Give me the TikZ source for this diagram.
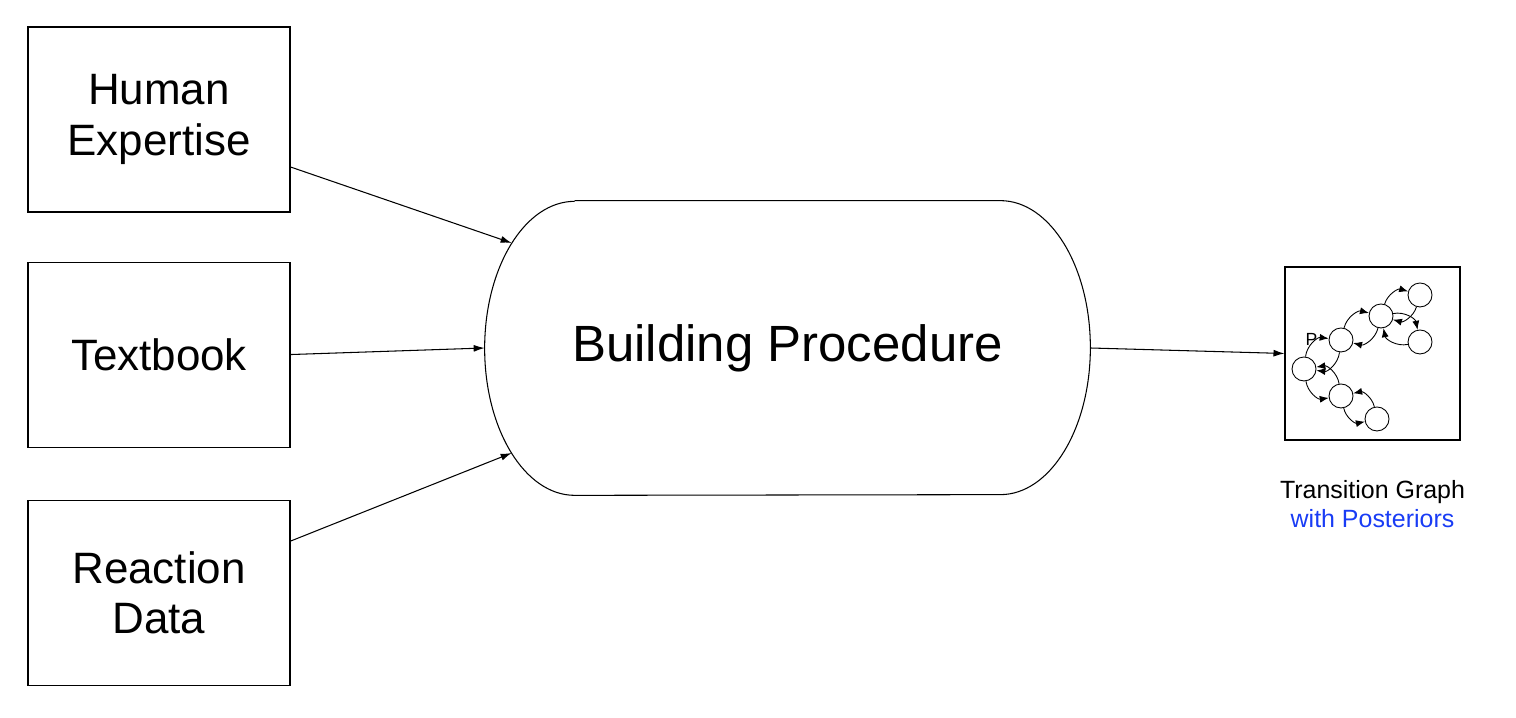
\documentclass[tikz,border=0pt]{standalone}
\usepackage{fontspec}
\setmainfont{Liberation Sans}
\usetikzlibrary{arrows.meta,positioning}
\definecolor{postblue}{RGB}{25,60,245}
\tikzset{
    srcbox/.style={draw,line width=0.6pt,minimum width=5.24cm,minimum height=3.7cm,align=center,font=\fontsize{25}{28.5}\selectfont},
    feed/.style={line width=0.6pt,-{Latex[length=2.2mm,width=1.4mm]}},
    state/.style={draw,circle,line width=0.5pt,minimum size=0.48cm,inner sep=0pt},
    hop/.style={line width=0.5pt,-{Latex[length=1.8mm,width=1.4mm]}}
}
\begin{document}
\begin{tikzpicture}
    \useasboundingbox (0,0) rectangle (30.32,14.36);

    \node[srcbox] (human) at (3.18,11.97) {Human\\Expertise};
    \node[srcbox,below=0.98cm of human] (textbook) {Textbook};
    \node[srcbox,below=1.04cm of textbook] (reaction) {Reaction\\Data};

    \node[minimum width=12.1cm,minimum height=5.88cm,font=\fontsize{29}{34}\selectfont] (build) at (15.75,7.40) {Building Procedure};
    \draw[line width=0.6pt] ([xshift=1.8cm]build.north west) -- ([xshift=-1.8cm]build.north east)
        arc[start angle=90,end angle=-90,x radius=1.8cm,y radius=2.94cm]
        -- ([xshift=1.8cm]build.south west)
        arc[start angle=270,end angle=90,x radius=1.8cm,y radius=2.94cm];
    \coordinate (hin) at ([xshift=0.54cm,yshift=2.1cm]build.west);
    \coordinate (rin) at ([xshift=0.54cm,yshift=-2.1cm]build.west);

    \node[draw,line width=0.6pt,minimum width=3.5cm,minimum height=3.46cm] (graph) at (27.45,7.29) {};
    \node[below=0.67cm of graph,align=center,font=\fontsize{14.2}{16.5}\selectfont] (caption) {Transition Graph\\\textcolor{postblue}{with Posteriors}};

    \node[state] (n1) at (26.08,6.98) {};
    \node[state] (n2) at (26.82,7.56) {};
    \node[state] (n3) at (27.62,8.04) {};
    \node[state] (n4) at (28.40,8.46) {};
    \node[state] (n5) at (28.40,7.52) {};
    \node[state] (n6) at (26.82,6.44) {};
    \node[state] (n7) at (27.54,5.98) {};
    \node[font=\fontsize{10}{11}\selectfont,inner sep=0pt] (plabel) at (26.23,7.57) {P};

    \foreach \a/\b/\bend in {n1/n2/45,n2/n3/45,n3/n4/45,n3/n5/45,n1/n6/-45,n6/n7/-45} {
        \draw[hop] (\a) to[bend left=\bend] (\b);
        \draw[hop] (\b) to[bend left=\bend] (\a);
    }

    \draw[feed] ([yshift=-0.95cm]human.east) -- (hin);
    \draw[feed] (textbook.east) -- (build.west);
    \draw[feed] ([yshift=1.03cm]reaction.east) -- (rin);
    \draw[feed] (build.east) -- (graph.west);
\end{tikzpicture}
\end{document}
